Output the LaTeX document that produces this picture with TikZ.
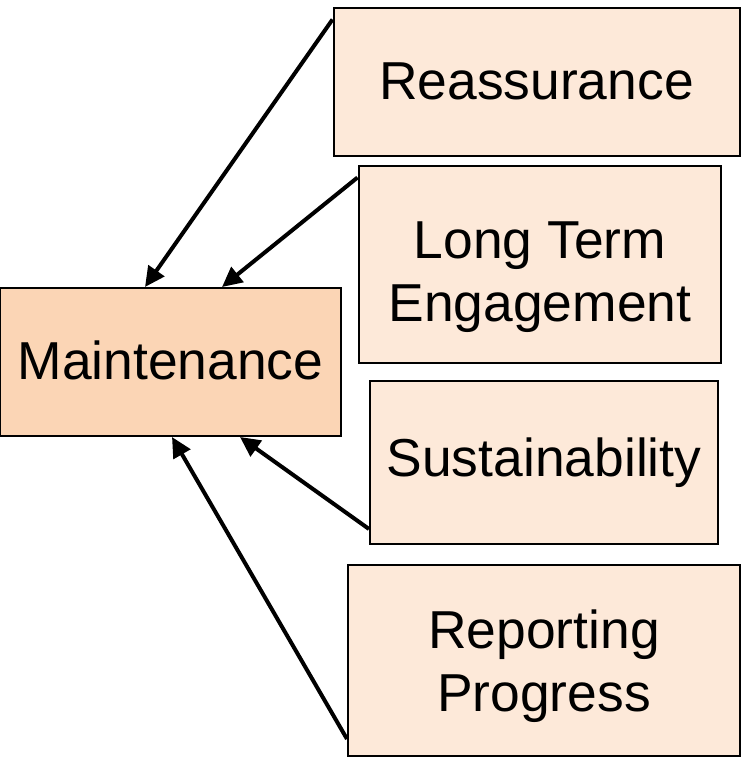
\documentclass[tikz,border=0pt]{standalone}
\usepackage{fontspec}
\setmainfont{Liberation Sans}
\usetikzlibrary{arrows.meta}
\definecolor{maintfill}{HTML}{FBD5B5}
\definecolor{boxfill}{HTML}{FDE9D9}
\begin{document}
\begin{tikzpicture}[x=1pt,y=-1pt,
  txt/.style={inner sep=0pt, align=center, font=\fontsize{53.4pt}{63pt}\selectfont},
  box/.style={txt, draw=black, line width=2pt, rectangle, fill=boxfill},
  arr/.style={line width=4pt, -{Triangle[length=20pt,width=19pt]}}]
\useasboundingbox (0,0) rectangle (741,758);
\node[box, fill=maintfill, minimum width=341pt, minimum height=148pt] (maint) at (170.5,362) {\raisebox{4pt}{Maintenance}};
\node[box, minimum width=406pt, minimum height=148pt] (reass) at (536.5,81.5) {Reassurance};
\node[box, minimum width=362pt, minimum height=197pt] (long) at (539.5,264) {};
\node[txt] (longtxt) at (540,277) {Long Term\\Engagement};
\node[box, minimum width=348pt, minimum height=163pt] (sust) at (544,462.5) {\raisebox{-3pt}{Sustainability}};
\node[box, minimum width=392pt, minimum height=191pt] (rep) at (544,660.5) {};
\node[txt] (reptxt) at (544,666) {Reporting\\Progress};
\draw[arr] ([yshift=-13pt]reass.north west) -- ([xshift=-25.5pt]maint.north);
\draw[arr] ([yshift=-13pt]long.north west) -- ([xshift=51.5pt]maint.north);
\draw[arr] ([yshift=16pt]sust.south west) -- ([xshift=69.5pt]maint.south);
\draw[arr] ([yshift=18pt]rep.south west) -- ([xshift=1.5pt]maint.south);
\end{tikzpicture}
\end{document}
